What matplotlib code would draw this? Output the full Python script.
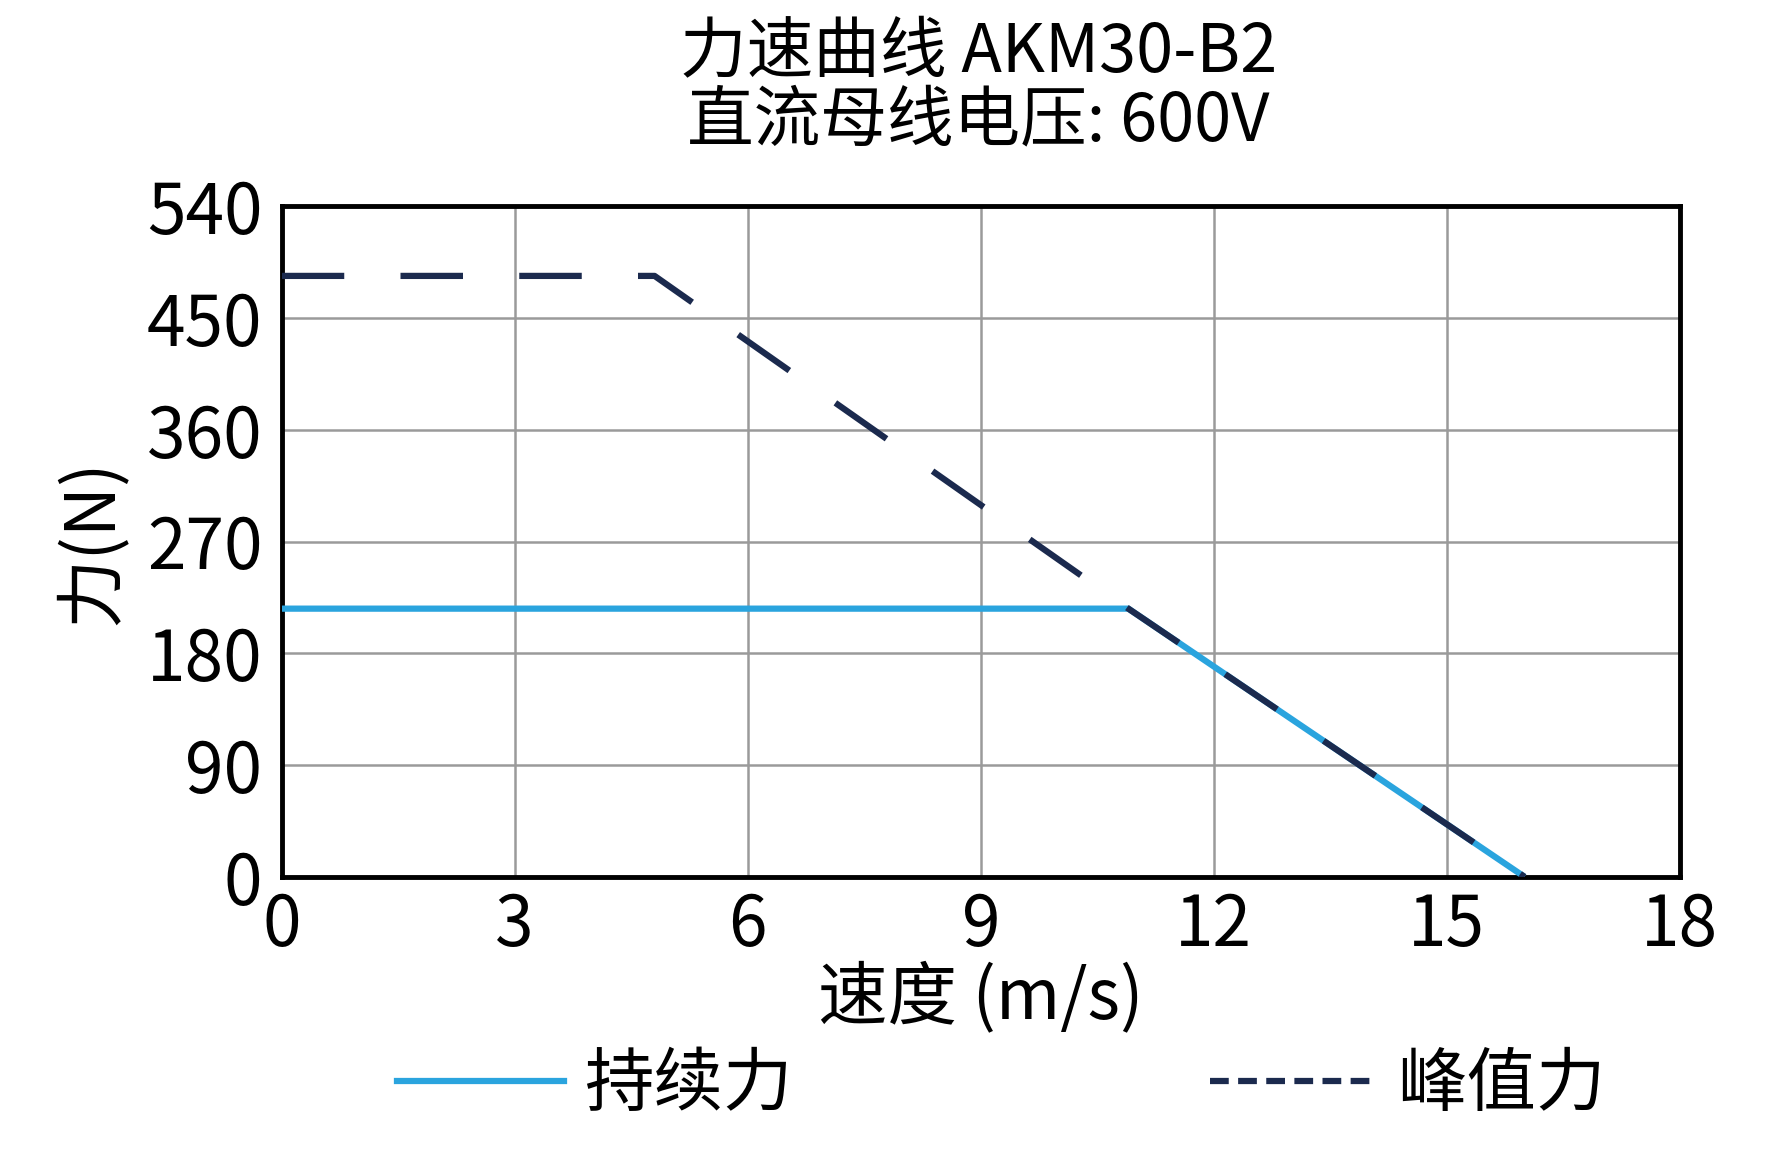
import matplotlib
matplotlib.use("Agg")
import matplotlib.pyplot as plt
from matplotlib.lines import Line2D

plt.rcParams["font.family"] = ["Noto Sans CJK SC", "DejaVu Sans"]

# data
cont_x = [0, 10.9, 16.0]
cont_y = [216, 216, 0]
peak_x = [0, 4.8, 10.9, 16.0]
peak_y = [484, 484, 216, 0]
xticks = [0, 3, 6, 9, 12, 15, 18]
yticks = [0, 90, 180, 270, 360, 450, 540]

BLUE = "#2AA4DE"
NAVY = "#1B2A4E"

fig = plt.figure(figsize=(17.72, 11.66), dpi=100)
ax = fig.add_axes([0.159, 0.248, 0.789, 0.575])

ax.plot(cont_x, cont_y, color=BLUE, lw=4.5, solid_capstyle="butt", zorder=3)
ax.plot(peak_x, peak_y, color=NAVY, lw=4.5, dashes=(10, 9), zorder=4)

ax.set_xlim(0, 18)
ax.set_ylim(0, 540)
ax.set_xticks(xticks)
ax.set_yticks(yticks)
ax.tick_params(labelsize=50, length=0)
ax.tick_params(axis="y", pad=14)
ax.tick_params(axis="x", pad=10)
ax.grid(color="#9a9a9a", lw=1.8)
for s in ax.spines.values():
    s.set_linewidth(3.5)
    s.set_color("black")

ax.set_xlabel("速度 (m/s)", fontsize=50, labelpad=0)
ax.set_ylabel("力(N)", fontsize=50, labelpad=14)
fig.text(0.552, 0.925, "力速曲线 AKM30-B2\n直流母线电压: 600V", ha="center",
         va="center", fontsize=48, linespacing=1.0)

handles = [Line2D([], [], color=BLUE, lw=4.5),
           Line2D([], [], color=NAVY, lw=4.5, dashes=(3, 1.5))]
fig.legend(handles, ["持续力", "峰值力"], loc="lower center",
           bbox_to_anchor=(0.565, -0.015), ncol=2, frameon=False, fontsize=50,
           handlelength=2.4, columnspacing=6, handletextpad=0.3)

fig.savefig("out.png", dpi=100)
